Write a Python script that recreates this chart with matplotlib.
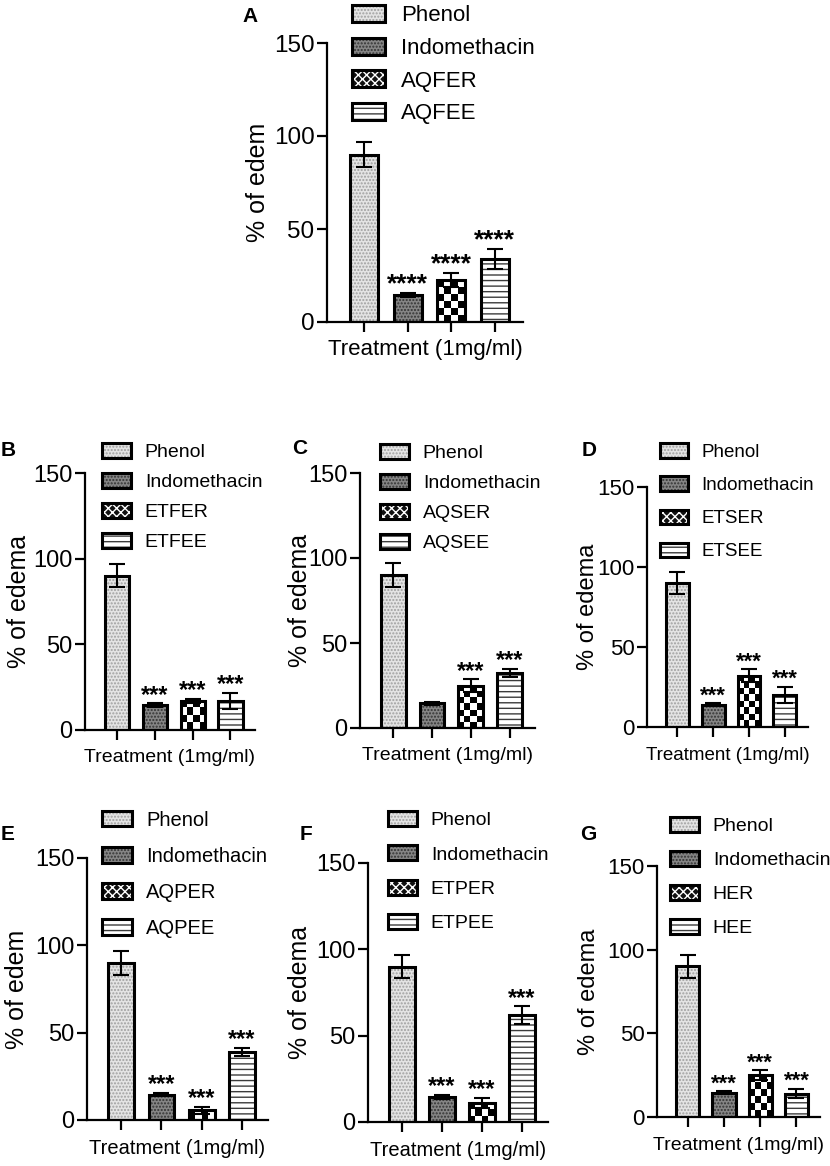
import numpy as np
import matplotlib
matplotlib.use('Agg')
import matplotlib.pyplot as plt
from matplotlib.patches import Rectangle

plt.rcParams['font.family'] = ['Liberation Sans', 'DejaVu Sans']
plt.rcParams['hatch.linewidth'] = 1.0

W, H = 830, 1166

# ---- data ----
names_A = ['Phenol', 'Indomethacin', 'AQFER', 'AQFEE']
mean_A = [90, 14.5, 22.5, 34]
sem_A = [6.8, 1.0, 3.8, 5.3]
star_A = ['', '****', '****', '****']

names_B = ['Phenol', 'Indomethacin', 'ETFER', 'ETFEE']
mean_B = [90, 14.5, 17, 17]
sem_B = [6.8, 1.0, 1.0, 4.5]
star_B = ['', '***', '***', '***']

names_C = ['Phenol', 'Indomethacin', 'AQSER', 'AQSEE']
mean_C = [90, 14.5, 25, 32.5]
sem_C = [6.8, 1.0, 3.6, 2.3]
star_C = ['', '', '***', '***']

names_D = ['Phenol', 'Indomethacin', 'ETSER', 'ETSEE']
mean_D = [90, 14, 32, 20]
sem_D = [6.8, 1.0, 4.0, 5.2]
star_D = ['', '***', '***', '***']

names_E = ['Phenol', 'Indomethacin', 'AQPER', 'AQPEE']
mean_E = [90, 14.5, 5.5, 39]
sem_E = [6.8, 1.0, 1.8, 2.2]
star_E = ['', '***', '***', '***']

names_F = ['Phenol', 'Indomethacin', 'ETPER', 'ETPEE']
mean_F = [90, 14.5, 11, 62]
sem_F = [6.8, 1.0, 2.8, 5.0]
star_F = ['', '***', '***', '***']

names_G = ['Phenol', 'Indomethacin', 'HER', 'HEE']
mean_G = [90, 14.5, 25, 14]
sem_G = [6.8, 1.0, 3.0, 2.8]
star_G = ['', '***', '***', '***']

# ---- layout in pixels: axes box, legend anchor, font sizes ----
panels = [
    dict(tag='A', names=names_A, mean=mean_A, sem=sem_A, star=star_A, ylab='% of edem',
         box=(327, 523, 43, 322), letter=(242, 17), leg=(352, 15, 32.5), ylx=258,
         fs_tick=17.5, fs_ylab=18, fs_xlab=16, fs_leg=16, fs_star=19),
    dict(tag='B', names=names_B, mean=mean_B, sem=sem_B, star=star_B, ylab='% of edema',
         box=(85, 255, 473, 730), letter=(1, 450), leg=(102, 452, 30), ylx=19,
         fs_tick=17, fs_ylab=18, fs_xlab=14, fs_leg=14, fs_star=17),
    dict(tag='C', names=names_C, mean=mean_C, sem=sem_C, star=star_C, ylab='% of edema',
         box=(360, 535, 473, 728), letter=(292, 449), leg=(380, 453, 30), ylx=300,
         fs_tick=17, fs_ylab=18, fs_xlab=14, fs_leg=14, fs_star=17),
    dict(tag='D', names=names_D, mean=mean_D, sem=sem_D, star=star_D, ylab='% of edema',
         box=(647, 808, 487, 727), letter=(582, 450), leg=(660, 452, 33), ylx=588,
         fs_tick=16, fs_ylab=17, fs_xlab=13.5, fs_leg=13.5, fs_star=16),
    dict(tag='E', names=names_E, mean=mean_E, sem=sem_E, star=star_E, ylab='% of edem',
         box=(87, 268, 858, 1120), letter=(1, 835), leg=(102, 820, 36), ylx=17,
         fs_tick=17, fs_ylab=18, fs_xlab=14.5, fs_leg=14.5, fs_star=17),
    dict(tag='F', names=names_F, mean=mean_F, sem=sem_F, star=star_F, ylab='% of edema',
         box=(368, 548, 863, 1122), letter=(300, 834), leg=(388, 820, 34.5), ylx=300,
         fs_tick=17, fs_ylab=18, fs_xlab=14.5, fs_leg=14, fs_star=17),
    dict(tag='G', names=names_G, mean=mean_G, sem=sem_G, star=star_G, ylab='% of edema',
         box=(657, 820, 866, 1117), letter=(580, 834), leg=(670, 826, 34), ylx=589,
         fs_tick=16, fs_ylab=17, fs_xlab=14, fs_leg=14, fs_star=16),
]

# bar fills: phenol, indomethacin, *ER (checker), *EE (stripes)
fills = [
    dict(face='#e4e4e4', hc='#a0a0a0', hatch='.....'),
    dict(face='#858585', hc='#333333', hatch='.....'),
    dict(face='white', hc='black', hatch=None),
    dict(face='white', hc='#3c3c3c', hatch='---'),
]
leg_fills = [
    dict(face='#e4e4e4', hc='#a0a0a0', hatch='.....'),
    dict(face='#858585', hc='#333333', hatch='.....'),
    dict(face='#111111', hc='white', hatch='xxxx'),
    dict(face='white', hc='#3c3c3c', hatch='---'),
]

fig = plt.figure(figsize=(W / 100, H / 100), dpi=100)
x = np.arange(4)

for p in panels:
    l, r, t, b = p['box']
    axw, axh = r - l, b - t
    ax = fig.add_axes([l / W, 1 - b / H, axw / W, axh / H])

    base = ax.bar(x, p['mean'], 0.64, linewidth=0, zorder=2)
    for bar, f in zip(base, fills):
        bar.set_facecolor(f['face'])
        bar.set_edgecolor(f['hc'])
        if f['hatch']:
            bar.set_hatch(f['hatch'])

    # checkerboard texture for the third bar
    cb = base[2]
    cell = 6.5 * 150 / axh
    nrow = max(1, int(round(cb.get_height() / cell)))
    board = np.add.outer(np.arange(nrow), np.arange(4)) % 2
    im = ax.imshow(board, cmap='gray', vmin=0, vmax=1, interpolation='nearest',
                   extent=(cb.get_x(), cb.get_x() + cb.get_width(), 0, cb.get_height()),
                   aspect='auto', zorder=2.5)
    im.set_clip_path(cb)

    ax.bar(x, p['mean'], 0.64, fill=False, edgecolor='black', linewidth=2.2, zorder=3)
    ax.errorbar(x, p['mean'], yerr=p['sem'], fmt='none', ecolor='black',
                elinewidth=1.5, capsize=6, capthick=1.5, zorder=4)
    for xi, m, s, st in zip(x, p['mean'], p['sem'], p['star']):
        if st:
            ax.text(xi, m + s + 1, st, ha='center', va='baseline',
                    fontsize=p['fs_star'], fontweight='bold')

    ax.set_xlim(-0.85, 3.65)
    ax.set_ylim(0, 150)
    for sp in ['top', 'right']:
        ax.spines[sp].set_visible(False)
    for sp in ['left', 'bottom']:
        ax.spines[sp].set_linewidth(1.6)
    ax.set_yticks([0, 50, 100, 150])
    ax.set_xticks(x)
    ax.set_xticklabels([])
    ax.tick_params(length=7, width=1.6, labelsize=p['fs_tick'], pad=2)

    ax.set_ylabel(p['ylab'], fontsize=p['fs_ylab'], va='center')
    ax.yaxis.set_label_coords(-(l - p['ylx']) / axw, 0.5)
    ax.set_xlabel('Treatment (1mg/ml)', fontsize=p['fs_xlab'], va='center')
    ax.xaxis.set_label_coords(0.5, -28 / axh)

    fig.text(p['letter'][0] / W, 1 - p['letter'][1] / H, p['tag'],
             fontsize=15, fontweight='bold', ha='left', va='center')

    handles = []
    for f in leg_fills:
        fill = Rectangle((0, 0), 1, 1, facecolor=f['face'], edgecolor=f['hc'],
                         hatch=f['hatch'], linewidth=0)
        edge = Rectangle((0, 0), 1, 1, fill=False, edgecolor='black', linewidth=2.2)
        handles.append((fill, edge))
    lx, ly, pitch = p['leg']
    fpx = p['fs_leg'] * 100 / 72
    ax.legend(handles, p['names'], loc='upper left',
              bbox_to_anchor=(lx / W, 1 - (ly - 0.46 * fpx) / H),
              bbox_transform=fig.transFigure, frameon=False, borderpad=0,
              borderaxespad=0, handlelength=1.5, handleheight=0.8,
              handletextpad=0.7, labelspacing=pitch / fpx - 0.94,
              fontsize=p['fs_leg'])

fig.savefig('out.png', dpi=100)
